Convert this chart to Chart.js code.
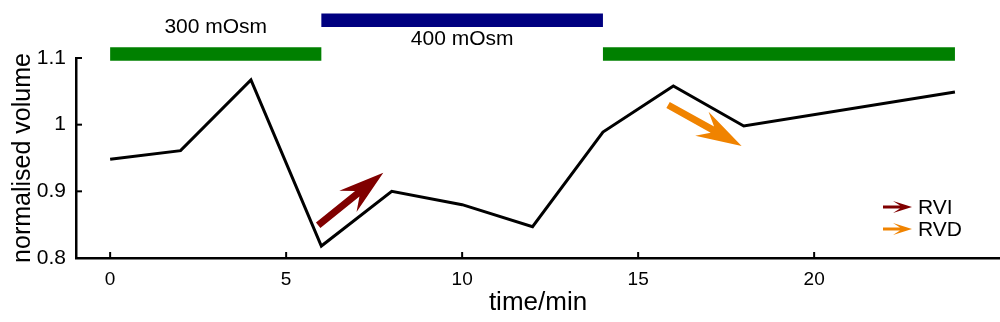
<!DOCTYPE html>
<html><head><meta charset="utf-8">
<script src="https://cdn.jsdelivr.net/npm/chart.js@4"></script>
<style>html,body{margin:0;padding:0;background:#fff;}#wrap{width:1000px;height:322px;}</style>
</head><body><div id="wrap"><canvas id="c" width="1000" height="322"></canvas></div>
<script>
// ---- data ----
const times = [0, 2, 4, 6, 8, 10, 12, 14, 16, 18, 24];
const volume = [0.948, 0.961, 1.067, 0.818, 0.900, 0.880, 0.847, 0.989, 1.058, 0.998, 1.049];
const xTicks = [0, 5, 10, 15, 20];
const yTicks = [0.8, 0.9, 1.0, 1.1];
const yTickLabels = ['0.8', '0.9', '1', '1.1'];
const phaseStart = [0, 6, 14];
const phaseEnd = [6, 14, 24];
const phaseLevel = [1.106, 1.1565, 1.106];
const phaseText = ['300 mOsm', '400 mOsm', ''];
const phaseTextX = [3, 10, 19];
const phaseTextY = [1.1465, 1.128, 1.1465];
const rviArrow = [[5.91, 0.849], [7.76, 0.928]];
const rvdArrow = [[15.85, 1.0296], [17.94, 0.968]];
const legendLabels = ['RVI', 'RVD'];

const FONT = "'Liberation Sans', Arial, Helvetica, sans-serif";
Chart.defaults.font.family = FONT;
Chart.defaults.color = '#000';

const phaseColors = ['#008000', '#000080', '#008000'];
const arrowColors = ['#800000', '#f08300'];

const datasets = [];
phaseStart.forEach((s, i) => {
  datasets.push({
    label: 'phase' + i,
    data: [{x: s, y: phaseLevel[i]}, {x: phaseEnd[i], y: phaseLevel[i]}],
    borderColor: phaseColors[i], borderWidth: 13.5, borderCapStyle: 'butt',
    pointRadius: 0, clip: false, tension: 0
  });
});
datasets.push({
  label: 'volume',
  data: times.map((t, i) => ({x: t, y: volume[i]})),
  borderColor: '#000', borderWidth: 3, borderJoinStyle: 'miter',
  pointRadius: 0, tension: 0, clip: false
});
[rviArrow, rvdArrow].forEach((a, i) => {
  datasets.push({
    label: legendLabels[i],
    data: a.map(p => ({x: p[0], y: p[1]})),
    showLine: false, pointRadius: 0, isArrow: true, arrowColor: arrowColors[i]
  });
});

function drawArrow(ctx, x0, y0, x1, y1, w, L, H, back, color) {
  const dx = x1 - x0, dy = y1 - y0, len = Math.hypot(dx, dy);
  const ux = dx / len, uy = dy / len, px = -uy, py = ux;
  const bx = x1 - ux * L, by = y1 - uy * L;
  const nx = x1 - ux * (L - back), ny = y1 - uy * (L - back);
  ctx.beginPath();
  ctx.moveTo(x1, y1);
  ctx.lineTo(bx + px * H, by + py * H);
  ctx.lineTo(nx + px * w / 2, ny + py * w / 2);
  ctx.lineTo(x0 + px * w / 2, y0 + py * w / 2);
  ctx.lineTo(x0 - px * w / 2, y0 - py * w / 2);
  ctx.lineTo(nx - px * w / 2, ny - py * w / 2);
  ctx.lineTo(bx - px * H, by - py * H);
  ctx.closePath();
  ctx.fillStyle = color;
  ctx.fill();
}

const extras = {
  id: 'extras',
  afterDatasetsDraw(chart) {
    const ctx = chart.ctx, xs = chart.scales.x, ys = chart.scales.y, ca = chart.chartArea;
    ctx.save();
    // inward tick marks
    ctx.strokeStyle = '#000'; ctx.lineWidth = 2;
    xs.ticks.forEach(t => {
      const px = xs.getPixelForValue(t.value);
      ctx.beginPath(); ctx.moveTo(px, ca.bottom); ctx.lineTo(px, ca.bottom - 6); ctx.stroke();
    });
    ys.ticks.forEach(t => {
      const py = ys.getPixelForValue(t.value);
      ctx.beginPath(); ctx.moveTo(ca.left, py); ctx.lineTo(ca.left + 6, py); ctx.stroke();
    });
    // phase labels
    ctx.font = '21px ' + FONT; ctx.fillStyle = '#000';
    ctx.textAlign = 'center'; ctx.textBaseline = 'middle';
    phaseText.forEach((t, i) => {
      if (!t) return;
      ctx.fillText(t, xs.getPixelForValue(phaseTextX[i]), ys.getPixelForValue(phaseTextY[i]));
    });
    // arrows
    let li = 0;
    chart.data.datasets.forEach((d, di) => {
      if (!d.isArrow) return;
      const m = chart.getDatasetMeta(di).data;
      drawArrow(ctx, m[0].x, m[0].y, m[1].x, m[1].y, 7, 45.5, 13.7, 12, d.arrowColor);
      // legend entry
      const ly = ca.bottom - 51 + li * 22;
      const lx = ca.right - 117;
      drawArrow(ctx, lx, ly, lx + 29, ly, 3, 19, 6, 7, d.arrowColor);
      ctx.font = '21px ' + FONT; ctx.fillStyle = '#000';
      ctx.textAlign = 'left'; ctx.textBaseline = 'middle';
      ctx.fillText(d.label, lx + 35, ly + 1);
      li++;
    });
    ctx.restore();
  }
};

new Chart(document.getElementById('c'), {
  type: 'line',
  data: {datasets},
  options: {
    responsive: false, animation: false, devicePixelRatio: 1,
    layout: {padding: {top: 58, right: 0, left: 0, bottom: 0}},
    plugins: {legend: {display: false}, tooltip: {enabled: false}},
    scales: {
      x: {
        type: 'linear', min: -0.97, max: 25.28,
        afterBuildTicks: s => { s.ticks = xTicks.map(v => ({value: v})); },
        afterFit: s => { s.height = 64; },
        grid: {display: false, drawTicks: false},
        border: {display: true, color: '#000', width: 2.5},
        ticks: {font: {size: 19}, padding: 10, maxRotation: 0, autoSkip: false, callback: v => String(v)},
        title: {display: true, text: 'time/min', font: {size: 26}, padding: {top: 4, bottom: 4}}
      },
      y: {
        type: 'linear', min: 0.8, max: 1.1,
        afterBuildTicks: s => { s.ticks = yTicks.map(v => ({value: v})); },
        afterFit: s => { s.width = 76; },
        grid: {display: false, drawTicks: false},
        border: {display: true, color: '#000', width: 2.5},
        ticks: {font: {size: 21}, padding: 10, autoSkip: false,
          callback: v => { const i = yTicks.findIndex(t => Math.abs(t - v) < 1e-9); return i >= 0 ? yTickLabels[i] : ''; }},
        title: {display: true, text: 'normalised volume', font: {size: 25}, padding: {top: 8, bottom: 8}}
      }
    }
  },
  plugins: [extras]
});
</script>
</body></html>
